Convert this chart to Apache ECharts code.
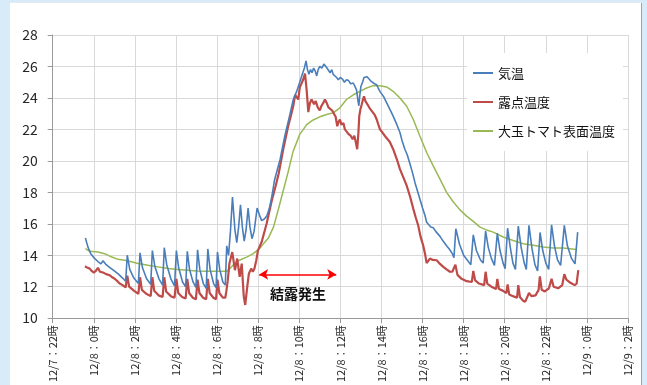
<!DOCTYPE html>
<html>
<head>
<meta charset="utf-8">
<title>結露発生</title>
<script src="https://cdn.jsdelivr.net/npm/echarts@6.0.0/dist/echarts.min.js"></script>
<style>
  html, body { margin: 0; padding: 0; width: 647px; height: 385px; background: #d7ebf9; overflow: hidden; }
  #chart {
    position: absolute; left: 10px; top: 3px; width: 631px; height: 382px;
    background: #fff; box-shadow: 1px 0 0 #9aa3ab, 0 -1px 0 #e4ebf0;
  }
</style>
</head>
<body>
<div id="chart"></div>
<script>
// x = hours since 12/7 22:00
var xTickLabels = ['12/7：22時', '12/8：0時', '12/8：2時', '12/8：4時', '12/8：6時', '12/8：8時', '12/8：10時',
  '12/8：12時', '12/8：14時', '12/8：16時', '12/8：18時', '12/8：20時', '12/8：22時', '12/9：0時', '12/9：2時']

var seriesNames = ['気温', '露点温度', '大玉トマト表面温度']

var airTemp = [
  [1.59, 15.1], [1.72, 14.5], [1.85, 14.1], [2.0, 13.85], [2.2, 13.6], [2.35, 13.45], [2.45, 13.65], [2.6, 13.4],
  [2.8, 13.2], [3.0, 13.0], [3.2, 12.8], [3.4, 12.55], [3.55, 12.35],
  [3.63, 14.0], [3.75, 13.1], [3.95, 12.55], [4.17, 12.2],
  [4.25, 14.15], [4.37, 13.2], [4.57, 12.5], [4.77, 12.15],
  [4.85, 14.3], [4.97, 13.3], [5.17, 12.5], [5.35, 12.1],
  [5.43, 14.48], [5.55, 13.4], [5.75, 12.5], [5.93, 12.05],
  [6.02, 14.3], [6.13, 13.2], [6.32, 12.3], [6.47, 12.0],
  [6.55, 14.25], [6.66, 13.1], [6.83, 12.3], [6.97, 11.95],
  [7.05, 14.35], [7.16, 13.1], [7.33, 12.2], [7.47, 11.9],
  [7.55, 14.4], [7.66, 13.1], [7.83, 12.2], [7.95, 11.95],
  [8.02, 14.2], [8.13, 13.1], [8.28, 12.3], [8.4, 12.1],
  [8.47, 14.6], [8.56, 14.0], [8.65, 15.5], [8.75, 17.7], [8.87, 15.6], [8.96, 14.8], [9.05, 15.8], [9.14, 17.2],
  [9.23, 15.8], [9.32, 14.9], [9.41, 15.6], [9.51, 17.0], [9.6, 15.8], [9.7, 15.05], [9.8, 15.5], [9.95, 17.0],
  [10.05, 16.6], [10.17, 16.2], [10.3, 16.3], [10.42, 16.5], [10.55, 17.0], [10.66, 17.7], [10.8, 18.8],
  [11.07, 20.1], [11.3, 21.6], [11.5, 22.7], [11.71, 23.9], [11.87, 24.4], [12.0, 24.9], [12.12, 25.4],
  [12.25, 25.9], [12.33, 26.35], [12.4, 25.8], [12.47, 25.5], [12.55, 25.8], [12.62, 25.6], [12.7, 25.9],
  [12.78, 25.7], [12.85, 25.4], [12.92, 25.8], [13.0, 26.0], [13.1, 25.9], [13.2, 26.15], [13.27, 26.2],
  [13.35, 25.9], [13.42, 25.95], [13.5, 25.6], [13.58, 25.8], [13.65, 25.5], [13.74, 25.47], [13.82, 25.3],
  [13.9, 25.16], [14.0, 25.3], [14.1, 25.2], [14.2, 25.0], [14.3, 25.15], [14.4, 25.1], [14.5, 24.9],
  [14.63, 24.95], [14.72, 24.7], [14.79, 24.5], [14.86, 23.8], [14.9, 23.5], [14.95, 24.2], [15.0, 24.73],
  [15.08, 25.0], [15.15, 25.3], [15.22, 25.4], [15.3, 25.35], [15.4, 25.2], [15.5, 25.05], [15.58, 25.1],
  [15.66, 24.9], [15.77, 24.84], [15.85, 24.6], [15.93, 24.4], [16.0, 24.3], [16.1, 24.1], [16.25, 23.7],
  [16.4, 23.3], [16.57, 22.84], [16.75, 22.3], [16.9, 21.8], [17.0, 21.3], [17.14, 20.74], [17.25, 20.4],
  [17.39, 19.8], [17.5, 19.3], [17.63, 18.63], [17.75, 18.1], [17.87, 17.58], [18.0, 17.0], [18.12, 16.52],
  [18.2, 16.1], [18.28, 16.0], [18.4, 15.8], [18.52, 15.75], [18.65, 15.5], [18.85, 15.2], [19.0, 14.9],
  [19.17, 14.6], [19.3, 14.4], [19.45, 14.1], [19.53, 13.85],
  [19.62, 15.68], [19.8, 14.7], [20.0, 14.0], [20.35, 13.4],
  [20.47, 15.3], [20.62, 14.3], [20.82, 13.7], [20.95, 13.5],
  [21.07, 15.53], [21.2, 14.5], [21.35, 13.8], [21.5, 13.36],
  [21.64, 15.4], [21.77, 14.3], [21.92, 13.5], [22.02, 13.15],
  [22.14, 15.72], [22.27, 14.5], [22.4, 13.5], [22.52, 13.1],
  [22.66, 15.85], [22.8, 14.5], [22.95, 13.5], [23.05, 13.1],
  [23.18, 15.9], [23.33, 14.4], [23.47, 13.4], [23.6, 13.0],
  [23.72, 15.45], [23.85, 14.3], [24.0, 13.5], [24.14, 13.1],
  [24.28, 15.93], [24.42, 14.6], [24.57, 13.7], [24.72, 13.35],
  [24.9, 15.9], [25.05, 14.6], [25.25, 13.8], [25.42, 13.45],
  [25.55, 15.47]
]

var dewPoint = [
  [1.57, 13.3], [1.7, 13.2], [1.8, 13.15], [1.9, 13.0], [2.0, 12.9], [2.1, 13.0], [2.2, 13.2], [2.3, 12.95],
  [2.45, 12.9], [2.6, 12.8], [2.77, 12.73], [2.9, 12.6], [3.0, 12.52], [3.15, 12.35], [3.26, 12.2], [3.4, 12.1],
  [3.55, 11.95],
  [3.63, 12.7], [3.72, 12.0], [3.95, 11.75], [4.17, 11.55],
  [4.25, 12.6], [4.34, 11.8], [4.55, 11.55], [4.77, 11.4],
  [4.85, 12.6], [4.94, 11.75], [5.15, 11.45], [5.35, 11.35],
  [5.43, 12.6], [5.52, 11.7], [5.75, 11.4], [5.93, 11.3],
  [6.02, 12.5], [6.11, 11.6], [6.3, 11.35], [6.47, 11.25],
  [6.55, 12.5], [6.64, 11.6], [6.82, 11.3], [6.97, 11.2],
  [7.05, 12.45], [7.14, 11.6], [7.32, 11.3], [7.47, 11.2],
  [7.55, 12.5], [7.64, 11.6], [7.82, 11.3], [7.95, 11.2],
  [8.02, 12.45], [8.11, 11.6], [8.28, 11.3], [8.4, 11.3],
  [8.45, 11.7], [8.52, 12.4], [8.6, 13.47], [8.74, 14.2], [8.87, 13.05], [8.98, 13.79], [9.1, 12.63],
  [9.2, 13.47], [9.3, 11.37], [9.37, 10.84], [9.47, 12.0], [9.55, 12.84], [9.66, 13.15], [9.74, 12.95],
  [9.82, 13.15], [9.91, 13.68], [9.99, 14.31], [10.17, 14.84], [10.41, 16.0], [10.66, 17.47], [10.85, 18.4],
  [11.0, 19.2], [11.22, 20.74], [11.46, 22.2], [11.6, 22.9], [11.71, 23.5], [11.8, 24.2], [11.87, 24.1],
  [11.95, 23.9], [12.03, 24.7], [12.12, 24.95], [12.2, 25.2], [12.28, 25.55], [12.36, 24.5], [12.44, 23.1],
  [12.52, 23.68], [12.6, 23.9], [12.65, 23.95], [12.72, 23.6], [12.8, 23.8], [12.9, 23.4], [13.0, 23.2],
  [13.08, 23.5], [13.17, 23.68], [13.25, 23.9], [13.33, 23.7], [13.42, 23.4], [13.5, 23.35], [13.6, 23.2],
  [13.69, 23.26], [13.77, 22.8], [13.85, 22.2], [13.92, 22.5], [13.98, 22.63], [14.05, 22.3], [14.15, 22.4],
  [14.22, 22.0], [14.3, 21.9], [14.4, 21.7], [14.5, 21.6], [14.6, 21.37], [14.68, 21.6], [14.75, 21.2],
  [14.82, 20.74], [14.88, 21.8], [14.92, 22.84], [14.98, 23.3], [15.04, 23.58], [15.1, 23.9], [15.15, 24.1],
  [15.22, 23.8], [15.28, 23.68], [15.36, 23.5], [15.45, 23.3], [15.52, 23.4], [15.6, 23.05], [15.68, 22.9],
  [15.77, 22.63], [15.85, 22.3], [15.93, 22.0], [16.05, 21.8], [16.17, 21.58], [16.25, 21.5], [16.41, 21.2],
  [16.57, 20.74], [16.75, 20.1], [16.9, 19.47], [17.05, 19.0], [17.23, 18.42], [17.4, 17.7], [17.55, 16.95],
  [17.67, 16.4], [17.79, 15.89], [17.9, 15.2], [18.03, 14.63], [18.12, 14.1], [18.2, 13.5], [18.28, 13.6],
  [18.36, 13.79], [18.5, 13.7], [18.69, 13.68], [18.85, 13.45], [19.01, 13.26], [19.17, 13.1], [19.33, 12.95],
  [19.45, 12.95], [19.6, 13.4], [19.7, 12.75], [19.9, 12.5], [20.15, 12.35], [20.4, 12.3], [20.47, 13.0],
  [20.56, 12.4], [20.75, 12.2], [21.0, 12.1], [21.07, 12.95], [21.15, 12.2], [21.35, 12.0], [21.58, 11.85],
  [21.64, 12.5], [21.72, 11.85], [21.9, 11.75], [22.08, 11.6], [22.14, 12.15], [22.22, 11.5], [22.4, 11.4],
  [22.6, 11.3], [22.66, 12.1], [22.74, 11.35], [22.9, 11.1], [23.0, 11.05], [23.18, 11.6], [23.3, 11.4],
  [23.5, 11.45], [23.65, 11.8], [23.71, 12.65], [23.8, 11.8], [23.95, 11.7], [24.15, 11.9], [24.28, 12.5],
  [24.38, 12.0], [24.6, 11.9], [24.8, 12.1], [24.9, 12.8], [25.0, 12.45], [25.2, 12.25], [25.4, 12.1],
  [25.5, 12.2], [25.58, 13.05]
]

var tomatoSurface = [
  [1.59, 14.42], [1.8, 14.25], [2.2, 14.2], [2.53, 14.1], [2.85, 13.9], [3.18, 13.74], [3.5, 13.68], [3.83, 13.58],
  [4.15, 13.47], [4.64, 13.36], [5.12, 13.26], [5.61, 13.15], [6.1, 13.1], [6.58, 13.05], [7.0, 13.0],
  [7.5, 12.98], [8.0, 12.98], [8.47, 12.98], [8.6, 13.1], [8.79, 13.4], [9.11, 13.7], [9.44, 13.88],
  [9.76, 14.1], [10.09, 14.45], [10.3, 14.8], [10.5, 15.1], [10.75, 15.8], [11.0, 17.0], [11.2, 18.0],
  [11.46, 19.3], [11.7, 20.6], [12.03, 21.7], [12.2, 22.0], [12.36, 22.3], [12.68, 22.6], [13.0, 22.8],
  [13.33, 22.95], [13.65, 23.05], [13.98, 23.37], [14.3, 23.9], [14.63, 24.2], [14.95, 24.42], [15.28, 24.63],
  [15.6, 24.78], [15.93, 24.77], [16.25, 24.7], [16.57, 24.42], [16.9, 24.0], [17.23, 23.47], [17.55, 22.63],
  [17.87, 21.58], [18.2, 20.53], [18.52, 19.68], [18.85, 18.84], [19.17, 18.0], [19.49, 17.4], [19.81, 16.9],
  [20.13, 16.5], [20.47, 16.15], [20.78, 15.8], [21.12, 15.6], [21.44, 15.47], [21.93, 15.16], [22.41, 14.94],
  [22.9, 14.73], [23.39, 14.63], [23.87, 14.52], [24.36, 14.46], [24.85, 14.46], [25.5, 14.37]
]

var fontFamily = '"Noto Sans CJK JP", "Noto Sans", sans-serif'

var chart = echarts.init(document.getElementById('chart'))
chart.setOption({
  animation: false,
  textStyle: { fontFamily: fontFamily },
  grid: { left: 42.7, right: 13, top: 32, bottom: 65 },
  legend: {
    orient: 'vertical',
    left: 457,
    top: 50,
    backgroundColor: '#fff',
    padding: [12, 8, 12, 6],
    itemGap: 13,
    itemWidth: 20,
    itemHeight: 2,
    icon: 'rect',
    textStyle: { fontSize: 13, color: '#111', fontFamily: fontFamily, lineHeight: 16 },
    data: seriesNames
  },
  xAxis: {
    type: 'value',
    min: 0,
    max: 28,
    interval: 2,
    axisLine: { lineStyle: { color: '#9a9a9a' } },
    axisTick: { show: true, length: 5, lineStyle: { color: '#9a9a9a' } },
    axisLabel: {
      rotate: 90,
      margin: 7,
      fontSize: 11,
      color: '#262626',
      formatter: function (v) { return xTickLabels[Math.round(v / 2)] }
    },
    splitLine: { show: true, lineStyle: { color: '#d9d9d9' } }
  },
  yAxis: {
    type: 'value',
    min: 10,
    max: 28,
    interval: 2,
    axisLine: { show: true, lineStyle: { color: '#9a9a9a' } },
    axisTick: { show: true, length: 5, lineStyle: { color: '#9a9a9a' } },
    axisLabel: { fontSize: 14, color: '#262626', margin: 15 },
    splitLine: { show: true, lineStyle: { color: '#d9d9d9' } }
  },
  series: [
    {
      name: seriesNames[0],
      type: 'line',
      data: airTemp,
      showSymbol: false,
      color: '#4a7ebb',
      lineStyle: { width: 1.6 },
      z: 3
    },
    {
      name: seriesNames[1],
      type: 'line',
      data: dewPoint,
      showSymbol: false,
      color: '#be4b48',
      lineStyle: { width: 2.2 },
      z: 2,
      // 結露発生の矢印
      markLine: {
        silent: true,
        symbol: ['arrow', 'arrow'],
        symbolSize: [8, 9],
        label: { show: false },
        lineStyle: { color: '#ff0000', width: 1.5, type: 'solid' },
        data: [[{ coord: [10.05, 12.78] }, { coord: [13.8, 12.78] }]]
      },
      markPoint: {
        silent: true,
        symbolSize: 0,
        label: {
          show: true,
          position: 'inside',
          formatter: '結露発生',
          fontSize: 14,
          fontWeight: 'bold',
          color: '#111'
        },
        data: [{ coord: [11.94, 11.58] }]
      }
    },
    {
      name: seriesNames[2],
      type: 'line',
      data: tomatoSurface,
      showSymbol: false,
      color: '#98b954',
      lineStyle: { width: 1.5 },
      z: 1
    }
  ]
})
</script>
</body>
</html>
